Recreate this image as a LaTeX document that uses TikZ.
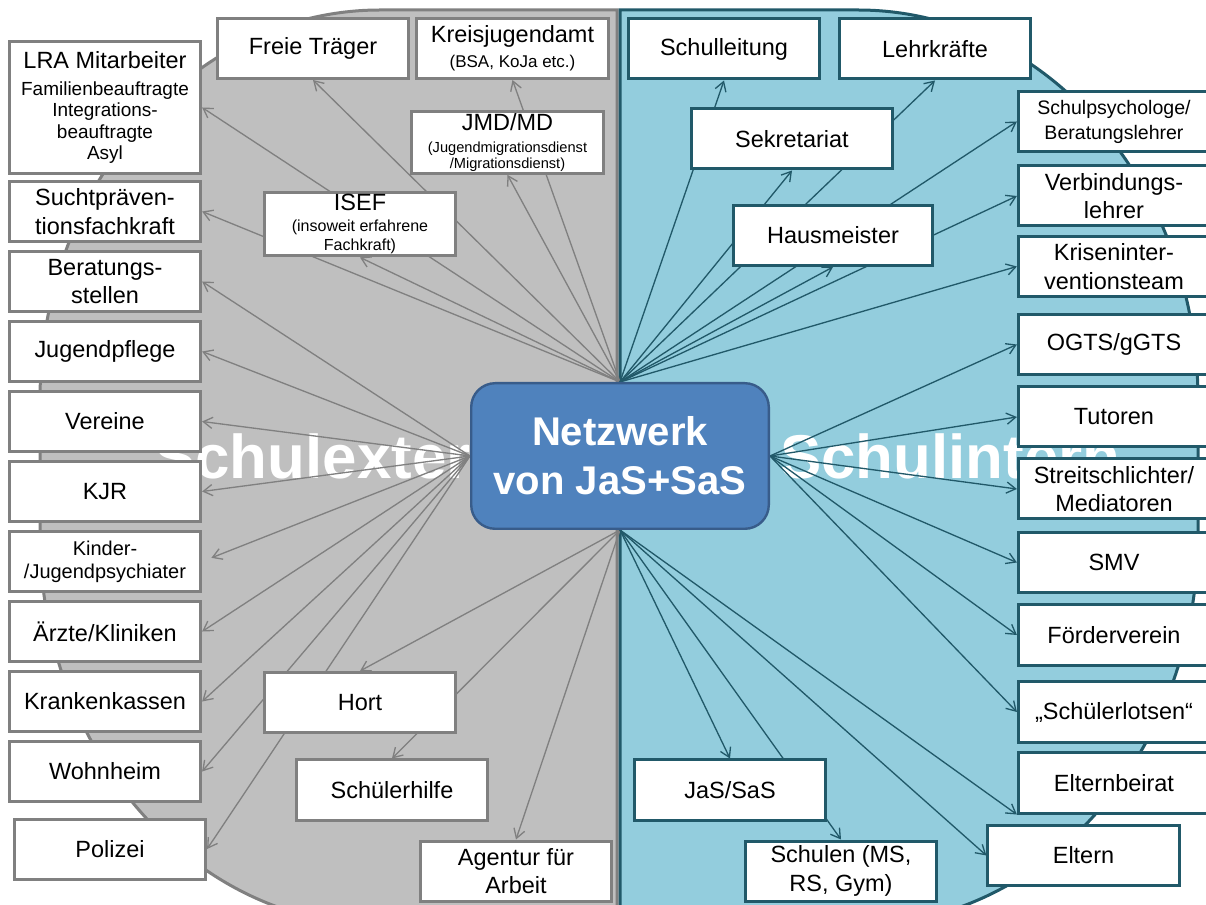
\documentclass[tikz,border=0pt]{standalone}
\usepackage{fontspec}
\setmainfont{Liberation Sans}
\usepackage{xcolor}
\definecolor{extgray}{rgb}{0.75, 0.75, 0.75}
\definecolor{extline}{rgb}{0.5, 0.5, 0.5}
\definecolor{intblue}{rgb}{0.576, 0.804, 0.867}
\definecolor{intline}{rgb}{0.13, 0.35, 0.41}
\definecolor{hubblue}{rgb}{0.31, 0.51, 0.74}
\definecolor{hubline}{rgb}{0.22, 0.36, 0.54}
\usepackage{tikz}
\usetikzlibrary{arrows.meta,positioning}
\newcommand{\boxfont}{\fontsize{16.7}{20.3}\selectfont}
\newcommand{\smallboxfont}{\fontsize{13.5}{15.3}\selectfont}
\newcommand{\bsafont}{\fontsize{12.1}{14}\selectfont}
\newcommand{\jmdfont}{\fontsize{10.4}{11.4}\selectfont}
\newcommand{\isefsubfont}{\fontsize{11.4}{13.5}\selectfont}
\newcommand{\psyfont}{\fontsize{13.9}{17.8}\selectfont}
\newcommand{\kinderfont}{\fontsize{14.2}{16.4}\selectfont}
\newcommand{\hubfont}{\fontsize{28.5}{35}\selectfont\bfseries}
\newcommand{\watermarkfont}{\fontsize{44}{44}\selectfont\bfseries}
\pgfdeclarelayer{back}
\pgfdeclarelayer{links}
\pgfsetlayers{back,links,main}
\tikzset{
  >={Straight Barb[length=2.3mm,width=2.8mm]},
  extbox/.style={rectangle,draw=extline,line width=0.75mm,fill=white,minimum width=47.8mm,minimum height=15mm,inner sep=0.5mm,align=center,font=\boxfont},
  intbox/.style={extbox,draw=intline},
  hubbox/.style={rectangle,rounded corners=6mm,draw=hubline,line width=0.6mm,fill=hubblue,minimum width=74.4mm,minimum height=36.4mm,align=center,text=white,font=\hubfont},
  halfshape/.style={line width=0.75mm},
  extedge/.style={->,draw=extline,line width=0.33mm},
  intedge/.style={->,draw=intline,line width=0.33mm},
  bigword/.style={text=white,font=\watermarkfont,anchor=base west,inner sep=0pt}
}

\begin{document}
\begin{tikzpicture}[x=0.25mm,y=-0.25mm,node distance=17.5mm]
  \useasboundingbox (0,0) rectangle (1206,905);

  % Two halves of the network
  \begin{pgfonlayer}{back}
    \fill[white] (0,0) rectangle (1206,905);
    \draw[halfshape,fill=extgray,draw=extline] (617,10) -- (380,10)
      .. controls (192,10) and (40,185) .. (40,400) -- (40,535)
      .. controls (40,750) and (192,925) .. (380,925) -- (617,925) -- cycle;
    \draw[halfshape,fill=intblue,draw=intline] (620,10) -- (858,10)
      .. controls (1046,10) and (1198,185) .. (1198,400) -- (1198,535)
      .. controls (1198,750) and (1046,925) .. (858,925) -- (620,925) -- cycle;
    \node[bigword] (extword) at (154,479) {Schulextern};
    \node[bigword] (intword) at (780,479) {Schulintern};
  \end{pgfonlayer}

  % Hub
  \node[hubbox] (hub) at (620,456) {Netzwerk\\von JaS+SaS};

  % Schulextern
  \node[extbox,font=\smallboxfont,minimum height=33mm] (lra) at (105,107.5) {\boxfont LRA Mitarbeiter\\[4pt]\smallboxfont Familienbeauftragte\\\smallboxfont Integrations-\\\smallboxfont beauftragte\\\smallboxfont Asyl};
  \node[extbox] (sucht) at (105,211.5) {Suchtpräven-\\tionsfachkraft};
  \node[extbox,below of=sucht] (berat) {Beratungs-\\stellen};
  \node[extbox,below of=berat] (jpflege) {Jugendpflege};
  \node[extbox,below of=jpflege] (vereine) {Vereine};
  \node[extbox,below of=vereine] (kjr) {KJR};
  \node[extbox,font=\kinderfont,below of=kjr] (kinder) {Kinder-\\/Jugendpsychiater};
  \node[extbox,below of=kinder] (aerzte) {Ärzte/Kliniken};
  \node[extbox,below of=aerzte] (kkassen) {Krankenkassen};
  \node[extbox,below of=kkassen] (wohnheim) {Wohnheim};
  \node[extbox] (polizei) at (110,849) {Polizei};

  \node[extbox] (frei) at (313,48.5) {Freie Träger};
  \node[extbox] (kja) at (512.5,48.5) {Kreisjugendamt\\[-2.5pt]\bsafont (BSA, KoJa etc.)};
  \node[extbox,font=\jmdfont] (jmd) at (507.5,142.5) {\boxfont JMD/MD\\[4pt]\jmdfont (Jugendmigrationsdienst\\\jmdfont /Migrationsdienst)};
  \node[extbox,font=\isefsubfont] (isef) at (360,224) {\boxfont ISEF\\[1.5pt]\isefsubfont (insoweit erfahrene\\\isefsubfont Fachkraft)};
  \node[extbox] (hort) at (360,702.5) {Hort};
  \node[extbox] (shilfe) at (392,790) {Schülerhilfe};
  \node[extbox] (agentur) at (516,871) {Agentur für\\Arbeit};

  % Schulintern
  \node[intbox] (sleitung) at (724,49) {Schulleitung};
  \node[intbox] (lehrer) at (935,49) {Lehrkräfte};
  \node[intbox,minimum width=50.2mm] (sekr) at (792,139) {Sekretariat};
  \node[intbox,minimum width=49.8mm] (hausm) at (833,235.5) {Hausmeister};
  \node[intbox,font=\psyfont] (psych) at (1114,121.5) {Schulpsychologe/\\Beratungslehrer};
  \node[intbox] (verb) at (1114,196) {Verbindungs-\\lehrer};
  \node[intbox] (krisen) at (1114,266.5) {Kriseninter-\\ventionsteam};
  \node[intbox] (ogts) at (1114,344.5) {OGTS/gGTS};
  \node[intbox] (tutoren) at (1114,417) {Tutoren};
  \node[intbox] (streit) at (1114,489) {Streitschlichter/\\Mediatoren};
  \node[intbox] (smv) at (1114,562.5) {SMV};
  \node[intbox] (foerder) at (1114,635) {Förderverein};
  \node[intbox] (lotsen) at (1114,712) {„Schülerlotsen“};
  \node[intbox] (ebeirat) at (1114,783) {Elternbeirat};
  \node[intbox] (eltern) at (1083.5,855.5) {Eltern};
  \node[intbox] (jas) at (730,790) {JaS/SaS};
  \node[intbox] (schulen) at (841,871) {Schulen (MS,\\RS, Gym)};

  % Links
  \begin{pgfonlayer}{links}
    \draw[extedge] (hub.north) -- (lra.east);
    \draw[extedge] (hub.north) -- (frei.south);
    \draw[extedge] (hub.north) -- (kja.south);
    \draw[extedge] (hub.north) -- (jmd.south);
    \draw[extedge] (hub.north) -- (isef.south);
    \draw[extedge] (hub.north) -- (sucht.east);
    \draw[extedge] (hub.west) -- (berat.east);
    \draw[extedge] (hub.west) -- (jpflege.east);
    \draw[extedge] (hub.west) -- (vereine.east);
    \draw[extedge] (hub.west) -- (kjr.east);
    \draw[extedge,shorten >=2.5mm] (hub.west) -- (kinder.east);
    \draw[extedge] (hub.west) -- (aerzte.east);
    \draw[extedge] (hub.west) -- (kkassen.east);
    \draw[extedge] (hub.west) -- (wohnheim.east);
    \draw[extedge] (hub.west) -- (polizei.east);
    \draw[extedge] (hub.south) -- (hort.north);
    \draw[extedge] (hub.south) -- (shilfe.north);
    \draw[extedge] (hub.south) -- (agentur.north);

    \draw[intedge] (hub.north) -- (sleitung.south);
    \draw[intedge] (hub.north) -- (lehrer.south);
    \draw[intedge] (hub.north) -- (sekr.south);
    \draw[intedge] (hub.north) -- (hausm.south);
    \draw[intedge] (hub.north) -- (psych.west);
    \draw[intedge] (hub.north) -- (verb.west);
    \draw[intedge] (hub.north) -- (krisen.west);
    \draw[intedge] (hub.east) -- (ogts.west);
    \draw[intedge] (hub.east) -- (tutoren.west);
    \draw[intedge] (hub.east) -- (streit.west);
    \draw[intedge] (hub.east) -- (smv.west);
    \draw[intedge] (hub.east) -- (foerder.west);
    \draw[intedge] (hub.east) -- (lotsen.west);
    \draw[intedge] (hub.south) -- (jas.north);
    \draw[intedge] (hub.south) -- (schulen.north);
    \draw[intedge] (hub.south) -- (eltern.west);
    \draw[intedge] (hub.south) -- (ebeirat.south west);
  \end{pgfonlayer}
\end{tikzpicture}
\end{document}
